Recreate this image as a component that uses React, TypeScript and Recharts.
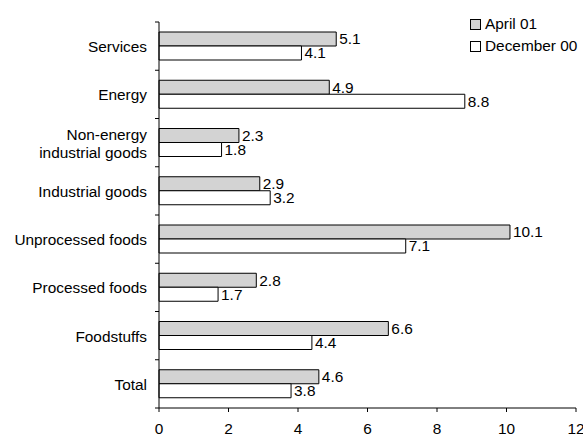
import { BarChart, Bar, XAxis, YAxis, LabelList } from "recharts";

// Category order top to bottom, as in the chart
const categories = [
  "Services",
  "Energy",
  "Non-energy\nindustrial goods",
  "Industrial goods",
  "Unprocessed foods",
  "Processed foods",
  "Foodstuffs",
  "Total",
];
const april01 = [5.1, 4.9, 2.3, 2.9, 10.1, 2.8, 6.6, 4.6];
const december00 = [4.1, 8.8, 1.8, 3.2, 7.1, 1.7, 4.4, 3.8];
const xTicks = [0, 2, 4, 6, 8, 10, 12];

const W = 583;
const H = 437;
const TOP = 22;
const BOTTOM = 29;
const AXIS_W = 159;
const BAND = (H - TOP - BOTTOM) / categories.length;
const FONT = '"Liberation Sans", Arial, sans-serif';
const FS = 15.4;

const data = categories.map((name, i) => ({
  name,
  april: april01[i],
  december: december00[i],
}));

// category label, plus tick marks at the band edges instead of band centres
function CategoryTick(props: any) {
  const { x, y, payload, index } = props;
  const lines = String(payload.value).split("\n");
  const axisX = x + 12;
  const lineH = 18;
  const startY = y - ((lines.length - 1) * lineH) / 2;
  return (
    <g>
      <line x1={axisX - 4} x2={axisX} y1={y - BAND / 2} y2={y - BAND / 2} stroke="#000" />
      {index === categories.length - 1 && (
        <line x1={axisX - 4} x2={axisX} y1={y + BAND / 2} y2={y + BAND / 2} stroke="#000" />
      )}
      <text x={x} y={startY} textAnchor="end" dominantBaseline="central" fontSize={FS} fill="#000" fontFamily={FONT}>
        {lines.map((l, i) => (
          <tspan key={i} x={x} dy={i === 0 ? 0 : lineH}>
            {l}
          </tspan>
        ))}
      </text>
    </g>
  );
}

const fmt = (v: any) => Number(v).toFixed(1);

export default function App() {
  return (
    <div style={{ position: "absolute", left: 0, top: 0, width: W, height: H, fontFamily: FONT }}>
      <BarChart
        width={W}
        height={H}
        data={data}
        layout="vertical"
        margin={{ top: TOP, right: 7, bottom: 0, left: 0 }}
        barGap={0}
        barSize={14}
      >
        <XAxis
          type="number"
          domain={[0, 12]}
          ticks={xTicks}
          height={BOTTOM}
          stroke="#000"
          tickSize={4}
          tickMargin={11}
          tick={{ fontSize: FS, fill: "#000", fontFamily: FONT }}
          interval={0}
        />
        <YAxis
          type="category"
          dataKey="name"
          width={AXIS_W}
          stroke="#000"
          tickLine={false}
          tickSize={4}
          tickMargin={8}
          tick={<CategoryTick />}
          interval={0}
        />
        <Bar dataKey="april" fill="#d3d3d3" stroke="#000" strokeWidth={1} isAnimationActive={false}>
          <LabelList dataKey="april" position="right" offset={3} formatter={fmt} fill="#000" fontSize={FS} fontFamily={FONT} />
        </Bar>
        <Bar dataKey="december" fill="#fff" stroke="#000" strokeWidth={1} isAnimationActive={false}>
          <LabelList dataKey="december" position="right" offset={3} formatter={fmt} fill="#000" fontSize={FS} fontFamily={FONT} />
        </Bar>
      </BarChart>
      <div style={{ position: "absolute", left: 470, top: 13, fontSize: FS, lineHeight: "22px", color: "#000" }}>
        {[
          { label: "April 01", color: "#d3d3d3" },
          { label: "December 00", color: "#fff" },
        ].map((it) => (
          <div key={it.label} style={{ display: "flex", alignItems: "center" }}>
            <span
              style={{
                display: "inline-block",
                width: 9,
                height: 9,
                background: it.color,
                border: "1px solid #000",
                marginRight: 4,
              }}
            />
            {it.label}
          </div>
        ))}
      </div>
    </div>
  );
}
